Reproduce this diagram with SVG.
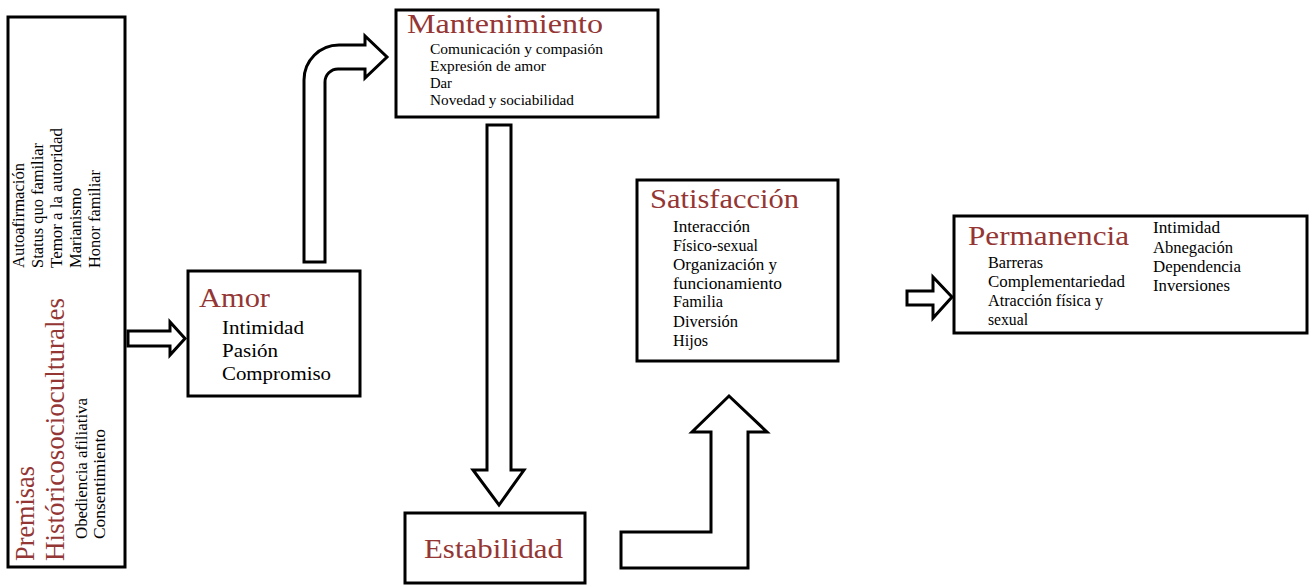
<svg xmlns="http://www.w3.org/2000/svg" width="1313" height="587" viewBox="0 0 1313 587">
<style>
.box{fill:#fff;stroke:#000;stroke-width:3}
.arr{fill:#fff;stroke:#000;stroke-width:3;stroke-linejoin:miter}
text{font-family:"Liberation Serif","Times New Roman",serif;fill:#000}
.t{fill:#943634;font-size:28px}
.s{font-size:16px}
.m{font-size:19px}
.x{font-size:15px}
</style>
<rect width="1313" height="587" fill="#fff"/>
<g id="premisas">
<rect class="box" x="8" y="17" width="117" height="550"/>
<text class="s" transform="rotate(-90 24 268)" x="24" y="268" textLength="105" lengthAdjust="spacingAndGlyphs">Autoafirmación</text>
<text class="s" transform="rotate(-90 43 268)" x="43" y="268" textLength="125" lengthAdjust="spacingAndGlyphs">Status quo familiar</text>
<text class="s" transform="rotate(-90 62 268)" x="62" y="268" textLength="140" lengthAdjust="spacingAndGlyphs">Temor a la autoridad</text>
<text class="s" transform="rotate(-90 81 268)" x="81" y="268" textLength="80" lengthAdjust="spacingAndGlyphs">Marianismo</text>
<text class="s" transform="rotate(-90 100 268)" x="100" y="268" textLength="98" lengthAdjust="spacingAndGlyphs">Honor familiar</text>
<text class="t" style="font-size:27px" transform="rotate(-90 34 561)" x="34" y="561" textLength="95" lengthAdjust="spacingAndGlyphs">Premisas</text>
<text class="t" style="font-size:27px" transform="rotate(-90 64 561)" x="64" y="561" textLength="263" lengthAdjust="spacingAndGlyphs">Históricosocioculturales</text>
<text class="s" transform="rotate(-90 87 539)" x="87" y="539" textLength="141" lengthAdjust="spacingAndGlyphs">Obediencia afiliativa</text>
<text class="s" transform="rotate(-90 105 539)" x="105" y="539" textLength="110" lengthAdjust="spacingAndGlyphs">Consentimiento</text>
</g>
<g id="amor">
<rect class="box" x="188" y="271" width="172" height="125"/>
<text class="t" x="199" y="307" textLength="71" lengthAdjust="spacingAndGlyphs">Amor</text>
<text class="m" x="222" y="334" textLength="82" lengthAdjust="spacingAndGlyphs">Intimidad</text>
<text class="m" x="222" y="357" textLength="56" lengthAdjust="spacingAndGlyphs">Pasión</text>
<text class="m" x="222" y="380" textLength="109" lengthAdjust="spacingAndGlyphs">Compromiso</text>
</g>
<g id="mantenimiento">
<rect class="box" x="396" y="10" width="262" height="107"/>
<text class="t" x="407" y="33" textLength="196" lengthAdjust="spacingAndGlyphs">Mantenimiento</text>
<text class="x" x="430" y="54" textLength="173" lengthAdjust="spacingAndGlyphs">Comunicación y compasión</text>
<text class="x" x="430" y="71" textLength="116" lengthAdjust="spacingAndGlyphs">Expresión de amor</text>
<text class="x" x="430" y="88" textLength="22" lengthAdjust="spacingAndGlyphs">Dar</text>
<text class="x" x="430" y="105" textLength="144" lengthAdjust="spacingAndGlyphs">Novedad y sociabilidad</text>
</g>
<g id="estabilidad">
<rect class="box" x="405" y="513" width="180" height="70"/>
<text class="t" x="424" y="558" textLength="139" lengthAdjust="spacingAndGlyphs">Estabilidad</text>
</g>
<g id="satisfaccion">
<rect class="box" x="637" y="180" width="201" height="181"/>
<text class="t" x="650" y="208" textLength="149" lengthAdjust="spacingAndGlyphs">Satisfacción</text>
<text class="s" x="673" y="232" textLength="77" lengthAdjust="spacingAndGlyphs">Interacción</text>
<text class="s" x="673" y="251" textLength="85" lengthAdjust="spacingAndGlyphs">Físico-sexual</text>
<text class="s" x="673" y="270" textLength="104" lengthAdjust="spacingAndGlyphs">Organización y</text>
<text class="s" x="673" y="289" textLength="109" lengthAdjust="spacingAndGlyphs">funcionamiento</text>
<text class="s" x="673" y="307" textLength="50" lengthAdjust="spacingAndGlyphs">Familia</text>
<text class="s" x="673" y="327" textLength="65" lengthAdjust="spacingAndGlyphs">Diversión</text>
<text class="s" x="673" y="346" textLength="35" lengthAdjust="spacingAndGlyphs">Hijos</text>
</g>
<g id="permanencia">
<rect class="box" x="954" y="216" width="353" height="117"/>
<text class="t" x="968" y="245" textLength="161" lengthAdjust="spacingAndGlyphs">Permanencia</text>
<text class="s" x="988" y="268" textLength="55" lengthAdjust="spacingAndGlyphs">Barreras</text>
<text class="s" x="988" y="287" textLength="137" lengthAdjust="spacingAndGlyphs">Complementariedad</text>
<text class="s" x="988" y="306" textLength="115" lengthAdjust="spacingAndGlyphs">Atracción física y</text>
<text class="s" x="988" y="325" textLength="40" lengthAdjust="spacingAndGlyphs">sexual</text>
<text class="s" x="1153" y="233" textLength="67" lengthAdjust="spacingAndGlyphs">Intimidad</text>
<text class="s" x="1153" y="253" textLength="80" lengthAdjust="spacingAndGlyphs">Abnegación</text>
<text class="s" x="1153" y="272" textLength="88" lengthAdjust="spacingAndGlyphs">Dependencia</text>
<text class="s" x="1153" y="291" textLength="77" lengthAdjust="spacingAndGlyphs">Inversiones</text>
</g>
<g id="connectors">
<path class="arr" d="M128,331 L170,331 L170,322 L185,338.5 L170,355 L170,346 L128,346 Z"/>
<path class="arr" d="M304,262 L304,80 A35,35 0 0 1 339,45 L365,45 L365,36 L387,57 L365,78 L365,69 L338,69 A13,13 0 0 0 325,82 L325,262 Z"/>
<path class="arr" d="M487,125 L511,125 L511,470 L524,470 L499,505 L473,470 L487,470 Z"/>
<path class="arr" d="M621,532 L711,532 L711,432 L692,432 L729,396 L767,432 L748,432 L748,568 L621,568 Z"/>
<path class="arr" d="M907,291 L933,291 L933,277 L952,297 L933,318 L933,305 L907,305 Z"/>
</g>
</svg>
